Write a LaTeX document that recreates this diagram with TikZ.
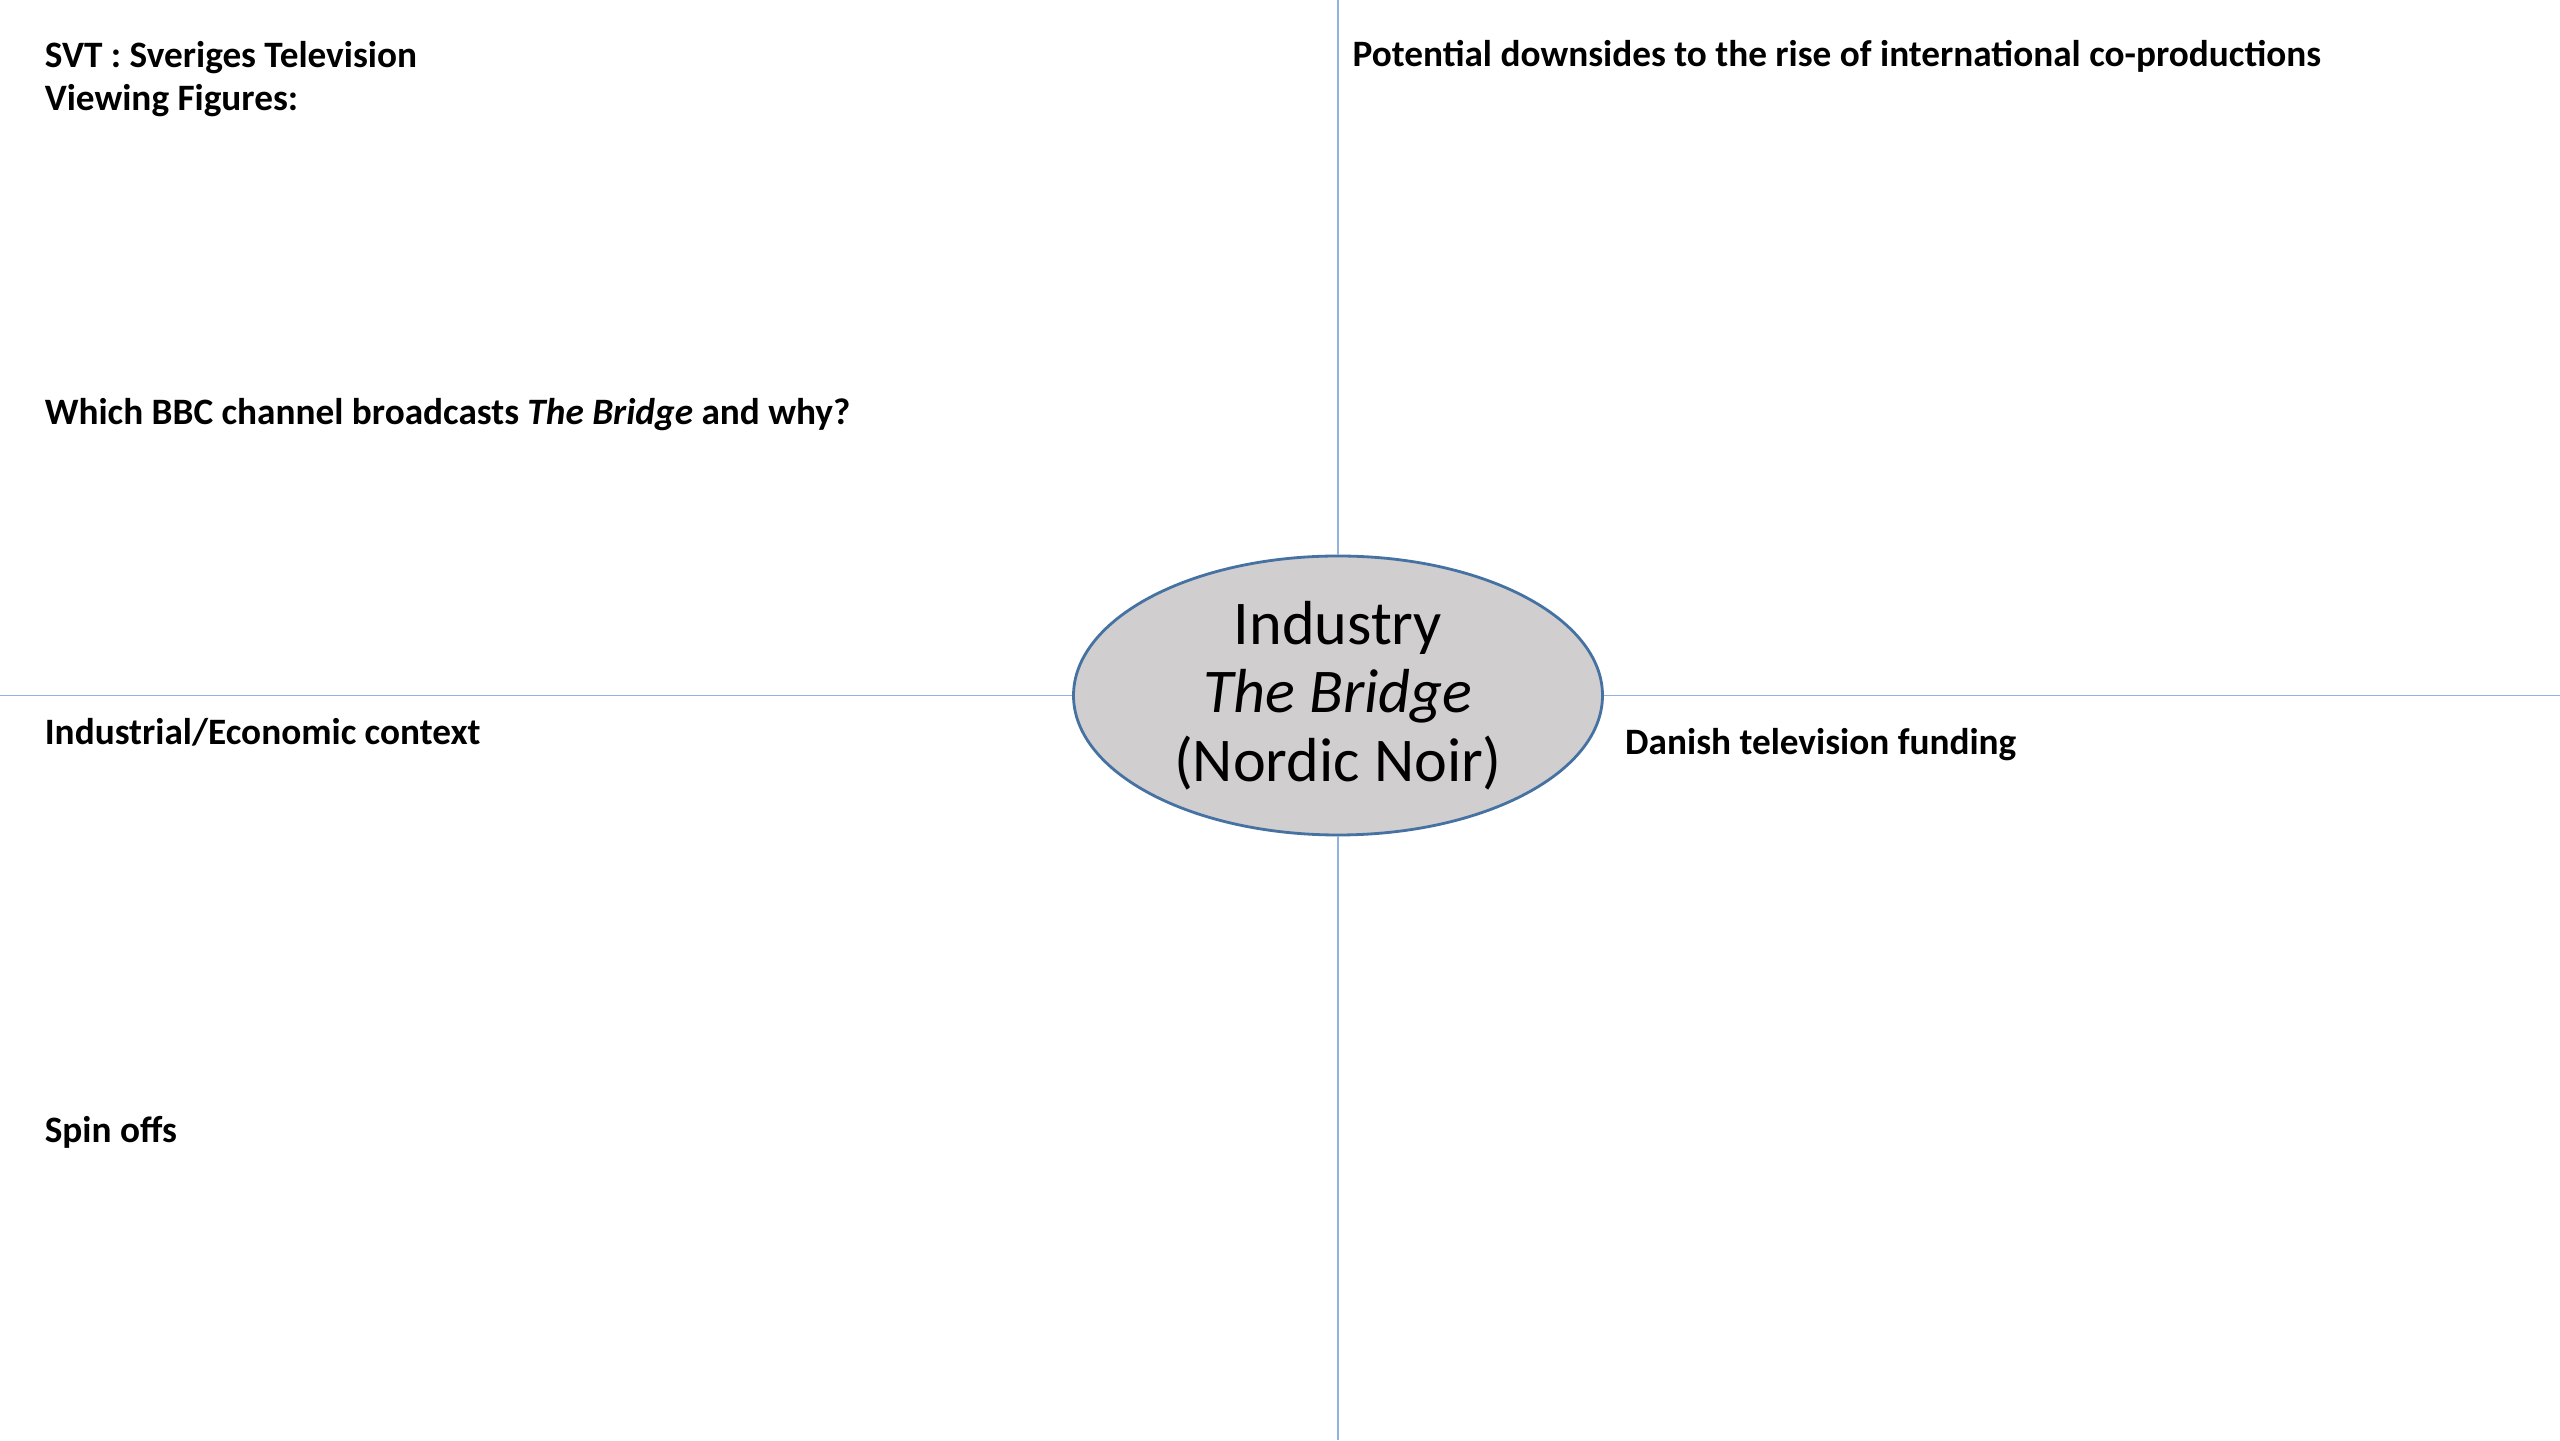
\documentclass[tikz,border=0pt]{standalone}
\usepackage{fontspec}
\setmainfont{Carlito}
\usetikzlibrary{shapes.geometric}
\definecolor{gridblue}{RGB}{143,178,222}
\definecolor{hubedge}{RGB}{70,114,163}
\definecolor{hubfill}{RGB}{208,206,206}
\tikzset{
	quarter/.style={draw=gridblue, line width=0.5pt},
	hub/.style={ellipse, draw=hubedge, fill=hubfill, line width=0.8pt, minimum width=5.29cm, minimum height=2.79cm, inner sep=0pt},
	prompt/.style={anchor=base west, inner sep=0pt, align=left, font=\bfseries\fontsize{10.6}{12.5}\selectfont}
}
\begin{document}
\begin{tikzpicture}
				\useasboundingbox (0, 0) rectangle (25.6, 14.4);
				\fill[white] (0, 0) rectangle (25.6, 14.4);

				\node[hub] (hub) at (13.38, 7.445) {};
				\node[align=center, inner sep=0pt, font=\fontsize{17.7}{19.5}\selectfont] (hubtext) at (hub.center) {Industry\\\textit{The Bridge}\\(Nordic Noir)};

				\coordinate (top) at (13.38, 14.4);
				\coordinate (bottom) at (13.38, 0);
				\coordinate (left) at (0, 7.445);
				\coordinate (right) at (25.6, 7.445);

				\draw[quarter] (top) -- (hub.north);
				\draw[quarter] (hub.south) -- (bottom);
				\draw[quarter] (left) -- (hub.west);
				\draw[quarter] (hub.east) -- (right);

				\node[prompt] (svt) at (0.441, 13.290) {SVT : Sveriges Television\\Viewing Figures:};

				\foreach \name/\y/\txt in {bbc/10.155/{Which BBC channel broadcasts \textit{The Bridge} and why?}, context/6.955/{Industrial/Economic context}, spin/2.971/{Spin offs}}
					\node[prompt] (\name) at (0.441, \y) {\txt};

				\node[prompt] (downsides) at (13.519, 13.731) {Potential downsides to the rise of international co-productions};
				\node[prompt] (funding) at (16.245, 6.857) {Danish television funding};
\end{tikzpicture}
\end{document}
